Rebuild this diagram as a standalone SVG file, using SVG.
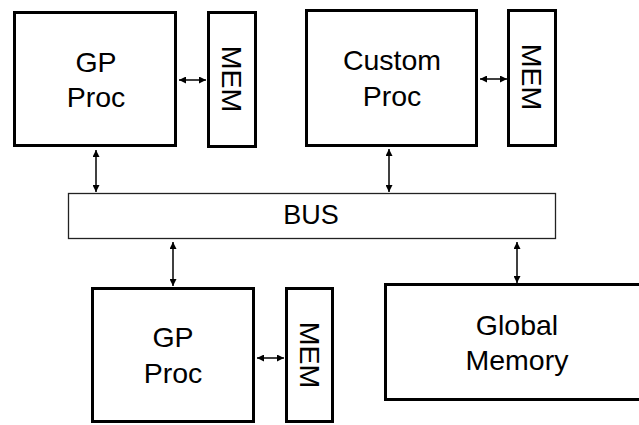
<svg xmlns="http://www.w3.org/2000/svg" width="639" height="425" viewBox="0 0 639 425">
<style>
.box{fill:#fff;stroke:#000;stroke-width:3}
.bus{fill:#fff;stroke:#222;stroke-width:1.3}
.t{font-family:"Liberation Sans",Arial,sans-serif;font-size:28.5px;fill:#000;text-anchor:middle}
.c{stroke:#000;stroke-width:1.5;fill:none;marker-start:url(#ah);marker-end:url(#ah)}
</style>
<defs>
<marker id="ah" viewBox="0 0 10 10" refX="10" refY="5" markerWidth="7" markerHeight="7" markerUnits="userSpaceOnUse" orient="auto-start-reverse">
<path d="M0,0 L10,5 L0,10 z" fill="#000"/>
</marker>
</defs>
<rect width="639" height="425" fill="#fff"/>
<g id="gp1">
<rect class="box" x="14.5" y="12.5" width="161" height="133"/>
<text class="t" x="96" y="71.5">GP</text>
<text class="t" x="96" y="107">Proc</text>
</g>
<g id="mem1">
<rect class="box" x="208.5" y="12.5" width="47" height="134"/>
<text class="t" transform="translate(221.5,79) rotate(90)">MEM</text>
</g>
<g id="custom">
<rect class="box" x="306.5" y="10.5" width="170" height="135"/>
<text class="t" x="392" y="70">Custom</text>
<text class="t" x="392" y="106">Proc</text>
</g>
<g id="mem2">
<rect class="box" x="508.5" y="10.5" width="47" height="135"/>
<text class="t" transform="translate(521.5,77) rotate(90)">MEM</text>
</g>
<g id="bus">
<rect class="bus" x="68.5" y="193.5" width="487" height="45"/>
<text class="t" x="311" y="224" style="font-size:27px">BUS</text>
</g>
<g id="gp3">
<rect class="box" x="92.5" y="288.5" width="161" height="133"/>
<text class="t" x="173" y="347">GP</text>
<text class="t" x="173" y="383">Proc</text>
</g>
<g id="mem3">
<rect class="box" x="286.5" y="288.5" width="46" height="133"/>
<text class="t" transform="translate(299.5,355) rotate(90)">MEM</text>
</g>
<g id="global">
<rect class="box" x="385.5" y="284.5" width="260" height="115"/>
<text class="t" x="517" y="335">Global</text>
<text class="t" x="517" y="370">Memory</text>
</g>
<g id="connectors">
<line class="c" x1="179" y1="80" x2="206" y2="80"/>
<line class="c" x1="480" y1="79" x2="507" y2="79"/>
<line class="c" x1="257" y1="358" x2="284" y2="358"/>
<line class="c" x1="96" y1="150" x2="96" y2="192"/>
<line class="c" x1="389" y1="149" x2="389" y2="192"/>
<line class="c" x1="173" y1="242" x2="173" y2="286"/>
<line class="c" x1="517" y1="242" x2="517" y2="283"/>
</g>
</svg>
